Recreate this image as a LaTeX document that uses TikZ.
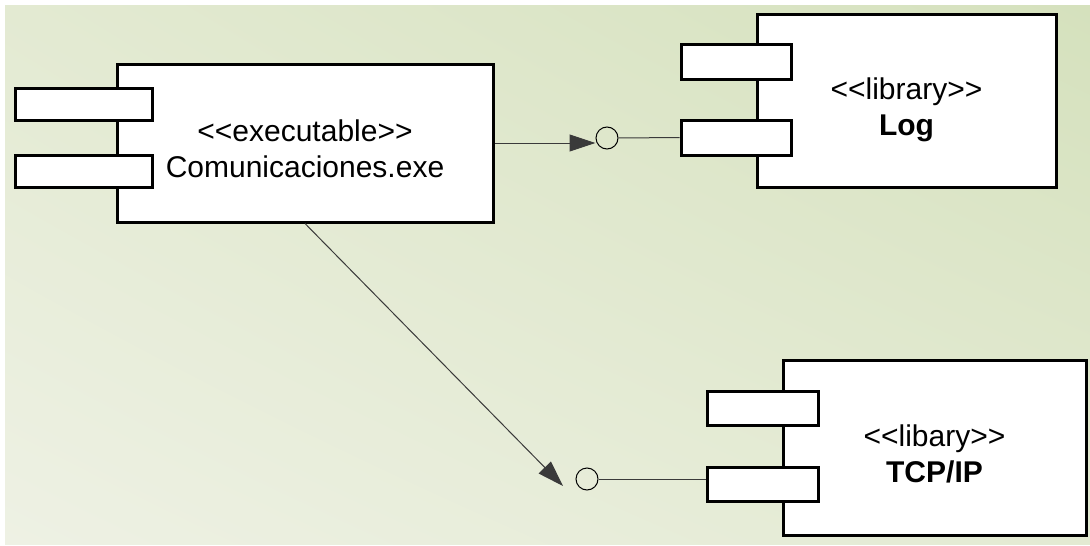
\documentclass[tikz,border=0pt]{standalone}
\usepackage{fontspec}
\setmainfont{Liberation Sans}
\usepackage{tikz}
\usetikzlibrary{arrows.meta,positioning,calc,shadings}
\definecolor{bgLL}{HTML}{EEF1E4}
\definecolor{bgUR}{HTML}{D5E1BD}
\definecolor{bgMID}{HTML}{E3EAD2}
\definecolor{wire}{HTML}{3A3A3A}
\newcommand{\stereo}[1]{{<}{<}#1{>}{>}}
\tikzset{
  comptext/.style = {align=center, inner sep=0pt, text centered,
    font=\fontsize{30}{36}\selectfont},
  comp_body/.style = {rectangle, draw=black, fill=white,
    line width=3pt},% cuerpo del componente
  comp_tab/.style = {rectangle, draw=black, fill=white, line width=3pt,
    inner sep=0pt},% pestanas del componente
  iface/.style = {circle, draw=black, fill=none, line width=1pt,
    minimum size=22pt, inner sep=0pt},% interfaz (piruleta)
  wire_l/.style = {draw=wire, line width=1pt}
}

\begin{document}
\begin{tikzpicture}[x=1pt,y=-1pt,>={Triangle[length=26pt,width=17pt]}]
  \useasboundingbox (0,0) rectangle (1090,546);
  \shade[lower left=bgLL, upper right=bgUR, upper left=bgMID,
    lower right=bgMID] (5,5) rectangle (1090,544);
  % ejecutable
  \node [comp_body, minimum width=376pt, minimum height=158pt](exe) at (305,143) {};
  \node [comp_tab, minimum width=137pt, minimum height=32pt](exe_t1) at (83.5,104) {};
  \node [comp_tab, minimum width=137pt, minimum height=32pt](exe_t2) at (83.5,171) {};
  \node [comptext](exe_txt) at ($(exe.center)+(0,6)$)
    {\stereo{executable}\\Comunicaciones.exe};
  % libreria Log
  \node [comp_body, minimum width=299pt, minimum height=173pt](log) at (906.5,100.5) {};
  \node [comp_tab, minimum width=110pt, minimum height=35pt](log_t1) at (736,61.5) {};
  \node [comp_tab, minimum width=110pt, minimum height=35pt](log_t2) at (736,137.5) {};
  \node [comptext](log_txt) at ($(log.center)+(0,9)$)
    {\stereo{library}\\\textbf{Log}};
  % libreria TCP/IP
  \node [comp_body, minimum width=303pt, minimum height=175pt](tcp) at (934.5,447.5) {};
  \node [comp_tab, minimum width=111pt, minimum height=34pt](tcp_t1) at (762.5,408) {};
  \node [comp_tab, minimum width=111pt, minimum height=34pt](tcp_t2) at (762.5,484) {};
  \node [comptext](tcp_txt) at ($(tcp.center)+(0,6)$)
    {\stereo{libary}\\\textbf{TCP/IP}};
  % interfaces
  \node [iface](log_if) at (607,138) {};
  \node [iface](tcp_if) at (587,479) {};
  \coordinate (tcp_end) at (563,486);
  \draw [wire_l] (log_if.east) -- (log_t2.west);
  \draw [wire_l] (tcp_if.east) -- (tcp_if.east -| tcp_t2.west);
  \draw [wire_l,->] (exe.east) -- (log_if.west |- exe.east);
  \draw [wire_l,->] (exe.south) -- (tcp_end);
\end{tikzpicture}
\end{document}
